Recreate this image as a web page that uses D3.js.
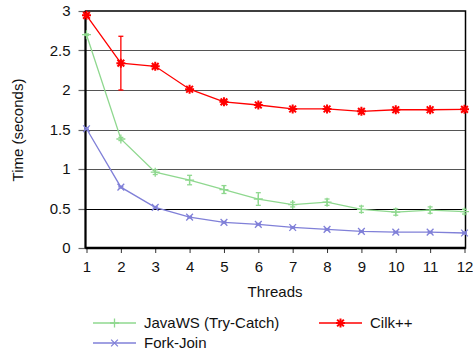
<!DOCTYPE html>
<html><head><meta charset="utf-8">
<script src="https://cdn.jsdelivr.net/npm/d3@7"></script>
<style>
html,body{margin:0;padding:0;background:#fff;}
text{font-family:"Liberation Sans",Arial,sans-serif;fill:#111;}
</style></head>
<body><svg id="c" width="473" height="353"></svg>
<script>
const threads = [1,2,3,4,5,6,7,8,9,10,11,12];
const javaWS   = [2.70,1.38,0.96,0.86,0.74,0.62,0.55,0.58,0.49,0.455,0.48,0.46];
const javaErr  = [0.01,0.02,0.03,0.06,0.05,0.08,0.03,0.04,0.04,0.04,0.04,0.03];
const forkJoin = [1.51,0.77,0.515,0.39,0.325,0.30,0.26,0.235,0.21,0.20,0.20,0.19];
const fjErr    = [0.01,0.01,0.01,0.01,0.01,0.01,0.01,0.01,0.01,0.01,0.01,0.01];
const cilk     = [2.945,2.34,2.30,2.01,1.85,1.81,1.76,1.76,1.73,1.75,1.75,1.755];
const cilkLo   = [2.93,2.00,2.29,2.00,1.84,1.80,1.75,1.75,1.72,1.74,1.74,1.745];
const cilkHi   = [2.96,2.68,2.31,2.02,1.86,1.82,1.77,1.77,1.74,1.76,1.76,1.765];
const yTicks = [0,0.5,1,1.5,2,2.5,3];
const xLabel = "Threads", yLabel = "Time (seconds)";
const names = ["JavaWS (Try-Catch)","Fork-Join","Cilk++"];

const FS = 15;
const svg = d3.select("#c");
const L=85.5, R=465.5, T=11, B=248;
const x = d3.scaleLinear().domain([1,12]).range([86.5,464.5]);
const y = d3.scaleLinear().domain([0,3]).range([B,T]);

// grid
svg.append("g").selectAll("line").data(yTicks.filter(v=>v>0&&v<3)).join("line")
  .attr("x1",L).attr("x2",R).attr("y1",d=>Math.round(y(d))+0.5).attr("y2",d=>Math.round(y(d))+0.5)
  .attr("stroke",d=>d===0.5?"#000":"#555").attr("stroke-width",1.2);

// axes
const ya = svg.append("g").attr("transform",`translate(${L-7},0)`)
  .call(d3.axisLeft(y).tickValues(yTicks).tickSize(0).tickPadding(8).tickFormat(d3.format("")));
ya.select(".domain").remove();
ya.selectAll("text").attr("font-size",FS).attr("font-family","Liberation Sans, Arial, sans-serif").attr("fill","#111");
svg.append("g").selectAll("line").data(yTicks).join("line")
  .attr("x1",L-7).attr("x2",L).attr("y1",d=>Math.round(y(d))+0.5).attr("y2",d=>Math.round(y(d))+0.5)
  .attr("stroke","#666").attr("stroke-width",1.2);

const xa = svg.append("g").attr("transform",`translate(0,${B})`)
  .call(d3.axisBottom(x).tickValues(threads).tickSize(5).tickPadding(8).tickFormat(d3.format("d")));
xa.select(".domain").remove();
xa.selectAll("line").attr("stroke","#333");
xa.selectAll("text").attr("font-size",FS).attr("font-family","Liberation Sans, Arial, sans-serif").attr("fill","#111");

// frame
svg.append("rect").attr("x",L).attr("y",T).attr("width",R-L).attr("height",B-T)
  .attr("fill","none").attr("stroke","#000").attr("stroke-width",1.5);
svg.append("line").attr("x1",L).attr("x2",R).attr("y1",B).attr("y2",B).attr("stroke","#000").attr("stroke-width",2.5);
svg.append("line").attr("x1",L).attr("x2",L).attr("y1",T).attr("y2",B).attr("stroke","#000").attr("stroke-width",2);

// axis titles
svg.append("text").attr("x",275).attr("y",297).attr("text-anchor","middle").attr("font-size",FS).text(xLabel);
svg.append("text").attr("transform","translate(23,130) rotate(-90)").attr("text-anchor","middle").attr("font-size",FS).text(yLabel);

const cG="#8fd88f", cB="#8080d8", cR="#ff0000";
function marker(g,type,cx,cy,col,s){
  const p=d3.path();
  if(type==="plus"||type==="star"){p.moveTo(cx-s,cy);p.lineTo(cx+s,cy);p.moveTo(cx,cy-s);p.lineTo(cx,cy+s);}
  if(type==="x"||type==="star"){const k=s*0.75;p.moveTo(cx-k,cy-k);p.lineTo(cx+k,cy+k);p.moveTo(cx-k,cy+k);p.lineTo(cx+k,cy-k);}
  g.append("path").attr("d",p.toString()).attr("stroke",col).attr("stroke-width",type==="star"?2:1.3).attr("fill","none");
}
function series(vals,lo,hi,col,type,sw){
  const g=svg.append("g");
  const line=d3.line().x((d,i)=>x(threads[i])).y(d=>y(d));
  g.append("path").attr("d",line(vals)).attr("fill","none").attr("stroke",col).attr("stroke-width",sw);
  vals.forEach((v,i)=>{
    const cx=x(threads[i]);
    g.append("line").attr("x1",cx).attr("x2",cx).attr("y1",y(lo[i])).attr("y2",y(hi[i])).attr("stroke",col).attr("stroke-width",1.3);
    [lo[i],hi[i]].forEach(e=>g.append("line").attr("x1",cx-2.5).attr("x2",cx+2.5).attr("y1",y(e)).attr("y2",y(e)).attr("stroke",col).attr("stroke-width",1.3));
    marker(g,type,cx,y(v),col,4.5);
  });
}
series(javaWS, javaWS.map((v,i)=>v-javaErr[i]), javaWS.map((v,i)=>v+javaErr[i]), cG,"plus",1.3);
series(forkJoin, forkJoin.map((v,i)=>v-fjErr[i]), forkJoin.map((v,i)=>v+fjErr[i]), cB,"x",1.3);
series(cilk, cilkLo, cilkHi, cR,"star",1.3);

// legend
const leg=[{n:names[0],c:cG,t:"plus",x:93,y:323},{n:names[1],c:cB,t:"x",x:93,y:343},{n:names[2],c:cR,t:"star",x:319,y:323}];
leg.forEach(d=>{
  svg.append("line").attr("x1",d.x).attr("x2",d.x+43).attr("y1",d.y).attr("y2",d.y).attr("stroke",d.c).attr("stroke-width",1.6);
  marker(svg,d.t,d.x+21.5,d.y,d.c,4.5);
  svg.append("text").attr("x",d.x+51).attr("y",d.y+5).attr("font-size",FS).text(d.n);
});
</script></body></html>
